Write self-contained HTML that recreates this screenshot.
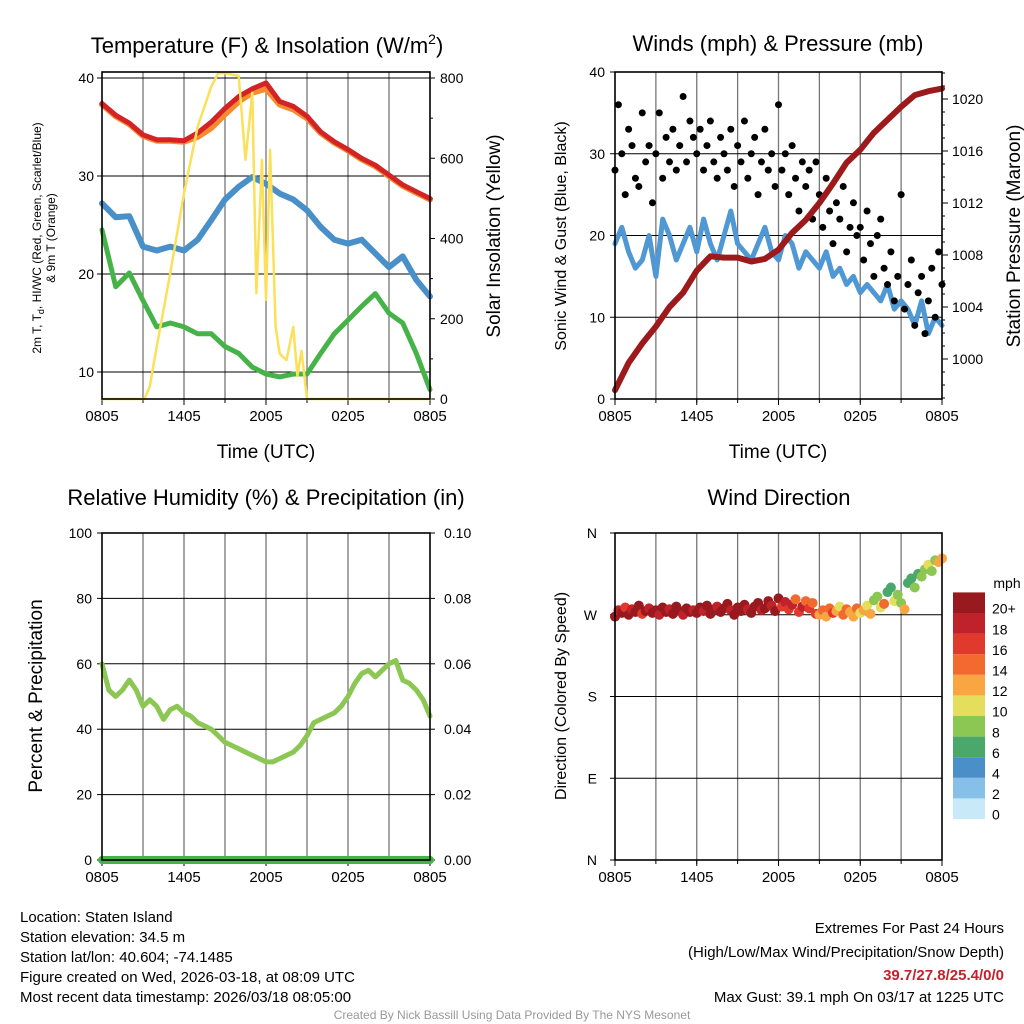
<!DOCTYPE html>
<html><head><meta charset="utf-8"><style>
body{margin:0;background:#fff;}
svg{display:block;font-family:"Liberation Sans",Arial,sans-serif;}
</style></head><body>
<svg id="s" width="1024" height="1024" viewBox="0 0 1024 1024" xmlns="http://www.w3.org/2000/svg">
<g id="g"></g>
</svg>
<script>
// ---------- data ----------
const xTickLabels = ["0805","1405","2005","0205","0805"];
const tempF = [37.4,36.2,35.4,34.2,33.7,33.7,33.6,34.4,35.5,36.9,38.1,38.9,39.5,37.6,37.1,36.1,34.5,33.5,32.7,31.8,31.1,30.1,29.1,28.4,27.7];
const temp9m = [37.3,36.1,35.3,34.1,33.6,33.6,33.5,34.0,34.9,36.3,37.6,38.5,38.9,37.3,36.8,35.9,34.4,33.4,32.6,31.7,31.0,30.0,29.0,28.3,27.6];
const windChill = [27.2,25.8,25.9,22.8,22.4,22.8,22.4,23.5,25.5,27.6,28.9,29.9,29.2,28.2,27.6,26.5,24.8,23.5,23.1,23.5,22.1,20.7,21.8,19.4,17.7];
const dewPoint = [24.5,18.7,20.1,17.3,14.6,15.0,14.6,13.9,13.9,12.6,11.9,10.5,9.8,9.5,9.8,9.8,11.9,13.9,15.3,16.7,18.0,16.0,15.0,11.9,8.2];
const solTime = [0,3.1,3.5,4,5,6,7,8,8.5,9,10,10.5,11,11.3,11.7,12,12.3,12.7,13,13.5,14,14.3,14.6,15,24];
const solVal = [0,0,31,130,314,513,679,779,812,812,805,596,763,264,596,247,621,180,113,97,180,57,120,0,0];
const tempTicks = [10,20,30,40];
const solTicks = [0,200,400,600,800];

const windSpd = [19,21,18,16,17,20,15,22,20,17,19,21,18,22,19,17,20,23,19,18,17,19,21,18,17,20,19,16,18,17,16,18,15,16,14,15,13,14,13,12,14,11,12,11,9,12,8,10,9];
const gustVal = [28,36,30,25,33,31,27,26,35,29,31,24,
30,35,27,32,29,33,28,31,37,29,34,32,
30,33,28,31,34,29,27,32,30,28,33,26,
31,29,34,27,30,32,25,29,33,28,30,26,
36,28,30,25,31,27,23,29,26,28,22,29,
25,21,27,23,19,24,22,26,18,21,24,20,
21,17,23,19,15,20,22,16,14,18,12,15,
25,11,14,17,9,13,15,8,12,16,10,18,14];
const pressure = [997.6,999.7,1001.2,1002.5,1004.0,1005.1,1006.8,1007.9,1007.8,1007.8,1007.5,1007.7,1008.4,1009.7,1010.7,1012.0,1013.5,1015.1,1016.1,1017.4,1018.4,1019.4,1020.3,1020.6,1020.8];
const windTicks = [0,10,20,30,40];
const presTicks = [1000,1004,1008,1012,1016,1020];

const rh = [60,52,50,52,55,52,47,49,47,43,46,47,45,44,42,41,40,38,36,35,34,33,32,31,30,30,31,32,33,35,38,42,43,44,45,47,50,54,57,58,56,58,60,61,55,54,52,49,44];
const precip = [0,0];
const rhTicks = [0,20,40,60,80,100];
const precTicks = ["0.00","0.02","0.04","0.06","0.08","0.10"];

const dirVal = [268,275,272,278,270,276,273,280,271,274,277,272,
275,270,278,273,276,271,279,274,270,277,273,275,
272,278,274,280,271,276,279,273,277,282,275,270,
278,274,281,276,272,279,283,275,277,285,280,274,
288,279,284,276,281,287,273,279,285,277,283,271,
270,275,268,277,272,274,279,270,276,273,268,277,
272,275,280,271,286,290,278,282,295,300,285,292,
283,276,305,310,300,315,312,320,325,318,330,328,332];
const dirSpd = [20,18,22,16,21,19,20,23,17,21,19,20,
21,19,22,20,18,23,20,21,19,22,20,18,
20,22,19,21,23,20,18,22,21,20,19,22,
21,20,23,19,22,21,20,18,22,20,19,21,
20,17,18,16,19,15,17,18,14,16,15,17,
13,15,12,14,16,13,11,14,15,12,13,14,
11,13,10,12,9,8,11,14,7,6,10,9,
8,12,7,6,9,7,8,9,11,8,9,12,12];
const dirTicks = ["N","E","S","W","N"];
const cbLabels = ["0","2","4","6","8","10","12","14","16","18","20+"];
const cbColors = ["#c7e9f8","#86c0e8","#4a8fc8","#4aa86b","#8cc653","#e4de5c","#f9a541","#f26a2e","#e03a2c","#c0222b","#981a1e"];

// ---------- helpers ----------
const NS="http://www.w3.org/2000/svg";
const G=document.getElementById('g');
function mk(tag,attrs,parent){const e=document.createElementNS(NS,tag);for(const k in attrs)e.setAttribute(k,attrs[k]);(parent||G).appendChild(e);return e;}
function txt(x,y,s,size,anchor,extra){const e=mk('text',Object.assign({x:x,y:y,'font-size':size,'text-anchor':anchor||'middle',fill:'#000'},extra||{}));e.textContent=s;return e;}
function poly(pts,color,w,name){const e=mk('polyline',{points:pts.map(p=>p[0].toFixed(1)+','+p[1].toFixed(1)).join(' '),fill:'none',stroke:color,'stroke-width':w,'stroke-linejoin':'round','stroke-linecap':'round'});

return e;}

function panel(L,R,T,B,hLines,vGrid,name){
  const xs=h=>L+h*(R-L)/24;
  const fr=mk('rect',{x:L,y:T,width:R-L,height:B-T,fill:'#fff',stroke:'none'});
  
  
  if(vGrid){for(let h=3;h<24;h+=3){const l=mk('line',{x1:xs(h),x2:xs(h),y1:T,y2:B,stroke:'#777','stroke-width':1.3});
    
    }}
  hLines.forEach(y=>{const l=mk('line',{x1:L,x2:R,y1:y,y2:y,stroke:'#000','stroke-width':1});
    
    });
  xTickLabels.forEach((s,i)=>{const t=txt(xs(i*6),B+22,s,15);
    
    
    mk('line',{x1:xs(i*6),x2:xs(i*6),y1:B,y2:B+6,stroke:'#000','stroke-width':1});});
  for(let h=0;h<=24;h+=3){mk('line',{x1:xs(h),x2:xs(h),y1:B,y2:B+4,stroke:'#000','stroke-width':1});}
  return xs;
}
function frame(L,R,T,B,name){const f=mk('rect',{x:L,y:T,width:R-L,height:B-T,fill:'none',stroke:'#000','stroke-width':1.6});

}

// ---------- Panel 1 ----------
(function(){
const L=102,R=430,T=72,B=399;
const yT=v=>78+(40-v)*9.8, yS=v=>399-v*321/800;
const xs=panel(L,R,T,B,tempTicks.map(yT),true,'temperature-panel');
tempTicks.forEach(v=>{const t=txt(L-8,yT(v)+5,String(v),14,'end');
  
  
  mk('line',{x1:L-5,x2:L,y1:yT(v),y2:yT(v),stroke:'#000'});});
solTicks.forEach(v=>{const t=txt(R+10,yS(v)+5,String(v),14,'start');
  
  
  mk('line',{x1:R,x2:R+5,y1:yS(v),y2:yS(v),stroke:'#000'});});
for(let v=100;v<800;v+=200)mk('line',{x1:R,x2:R+3,y1:yS(v),y2:yS(v),stroke:'#000'});
poly(dewPoint.map((v,i)=>[xs(i),yT(v)]),'#46b348',5,'dewpoint-line');
poly(windChill.map((v,i)=>[xs(i),yT(v)]),'#4a90c8',6,'wind-chill-line');
poly(temp9m.map((v,i)=>[xs(i),yT(v)]),'#f58a2e',6,'temp-9m-line');
poly(tempF.map((v,i)=>[xs(i),yT(v)]),'#d42326',5,'temp-2m-line');
poly(solTime.map((h,i)=>[xs(h),yS(solVal[i])]),'#fbe05a',2.5,'insolation-line');
frame(L,R,T,B,'temperature-panel');
const t1=txt(267,53,'Temperature (F) & Insolation (W/m',22);


const sup=mk('tspan',{dy:-9,'font-size':14},t1);sup.textContent='2';
const cl=mk('tspan',{dy:9},t1);cl.textContent=')';
const xl=txt(266,458,'Time (UTC)',19);


const yl=mk('text',{transform:'translate(41,238) rotate(-90)','font-size':12,'text-anchor':'middle'});


yl.innerHTML='2m T, T<tspan font-size="9" dy="3">d</tspan><tspan dy="-3">, HI/WC (Red, Green, Scarlet/Blue)</tspan>';
const yl2=txt(0,0,'& 9m T (Orange)',12,'middle',{transform:'translate(55,238) rotate(-90)'});


const yr=txt(0,0,'Solar Insolation (Yellow)',19,'middle',{transform:'translate(500,236) rotate(-90)'});


})();

// ---------- Panel 2 ----------
(function(){
const L=615,R=942,T=72,B=399;
const yW=v=>399-v*8.175, yP=v=>99+(1020-v)*13;
const xs=panel(L,R,T,B,[10,20,30].map(yW),true,'winds-panel');
windTicks.forEach(v=>{const t=txt(L-10,yW(v)+5,String(v),14,'end');
  
  
  mk('line',{x1:L-5,x2:L,y1:yW(v),y2:yW(v),stroke:'#000'});});
for(let v=997;v<=1022;v++)mk('line',{x1:R,x2:R+(v%4==0?6:3),y1:yP(v),y2:yP(v),stroke:'#000'});
presTicks.forEach(v=>{const t=txt(R+10,yP(v)+5,String(v),14,'start');
  
  });
poly(windSpd.map((v,i)=>[xs(i/2),yW(v)]),'#4f98d3',5,'sonic-wind-line');
gustVal.forEach((v,i)=>{const c=mk('circle',{cx:xs(i/4),cy:yW(v),r:3.5,fill:'#000'});
  
  });
poly(pressure.map((v,i)=>[xs(i),yP(v)]),'#9c1a1c',6,'pressure-line');
frame(L,R,T,B,'winds-panel');
const t=txt(778,51,'Winds (mph) & Pressure (mb)',22);


const xl=txt(778,458,'Time (UTC)',19);


const yl=txt(0,0,'Sonic Wind & Gust (Blue, Black)',16,'middle',{transform:'translate(566,236) rotate(-90)'});


const yr=txt(0,0,'Station Pressure (Maroon)',19,'middle',{transform:'translate(1020,236) rotate(-90)'});


})();

// ---------- Panel 3 ----------
(function(){
const L=102,R=430,T=533,B=860;
const yR=v=>860-v*3.27;
const xs=panel(L,R,T,B,[20,40,60,80].map(yR),true,'humidity-panel');
rhTicks.forEach((v,i)=>{const t=txt(L-10,yR(v)+5,String(v),14,'end');
  
  
  mk('line',{x1:L-5,x2:L,y1:yR(v),y2:yR(v),stroke:'#000'});
  const t2=txt(R+14,yR(v)+5,precTicks[i],14,'start');
  
  
  mk('line',{x1:R,x2:R+5,y1:yR(v),y2:yR(v),stroke:'#000'});});
poly(rh.map((v,i)=>[xs(i/2),yR(v)]),'#8cc653',5,'humidity-line');
poly(precip.map((v,i)=>[xs(i*24),yR(v*1000)]),'#46b348',8,'precipitation-line');
frame(L,R,T,B,'humidity-panel');
const t=txt(266,505,'Relative Humidity (%) & Precipitation (in)',22);


const yl=txt(0,0,'Percent & Precipitation',19,'middle',{transform:'translate(42,696) rotate(-90)'});


})();

// ---------- Panel 4 ----------
(function(){
const L=615,R=942,T=533,B=860;
const yD=d=>860-d*327/360;
const xs=panel(L,R,T,B,[90,180,270].map(yD),true,'wind-direction-panel');
dirTicks.forEach((s,i)=>{const t=txt(L-18,yD(i*90)+5,s,14,'end');
  
  
  mk('line',{x1:L-5,x2:L,y1:yD(i*90),y2:yD(i*90),stroke:'#000'});});
const col=s=>cbColors[Math.min(10,Math.floor(s/2))];
dirVal.forEach((d,i)=>{const c=mk('circle',{cx:xs(i/4),cy:yD(d),r:5,fill:col(dirSpd[i])});
  
  });
frame(L,R,T,B,'wind-direction-panel');
const t=txt(779,505,'Wind Direction',22);


const yl=txt(0,0,'Direction (Colored By Speed)',16,'middle',{transform:'translate(566,696) rotate(-90)'});


const cbt=txt(1007,588,'mph',14);


const h=20.6;
cbColors.forEach((c,i)=>{const r=mk('rect',{x:953,y:819-(i+1)*h,width:32,height:h,fill:c});
  
  
  const l=txt(992,819-(i+1)*h+h/2+13-2,cbLabels[i],14,'start');
  
  });
})();

// ---------- footer ----------
const left=["Location: Staten Island","Station elevation: 34.5 m","Station lat/lon: 40.604; -74.1485","Figure created on Wed, 2026-03-18, at 08:09 UTC","Most recent data timestamp: 2026/03/18 08:05:00"];
left.forEach((s,i)=>{const t=txt(20,922+i*20,s,15,'start');
  
  });
const r1=txt(1004,933,'Extremes For Past 24 Hours',15,'end');


const r2=txt(1004,957,'(High/Low/Max Wind/Precipitation/Snow Depth)',15,'end');


const r3=txt(1004,980,'39.7/27.8/25.4/0/0',15,'end',{fill:'#c8202a','font-weight':'bold'});


const r4=txt(1004,1002,'Max Gust: 39.1 mph On 03/17 at 1225 UTC',15,'end');


const cr=txt(512,1019,'Created By Nick Bassill Using Data Provided By The NYS Mesonet',12,'middle',{fill:'#999'});


</script>
</body></html>
